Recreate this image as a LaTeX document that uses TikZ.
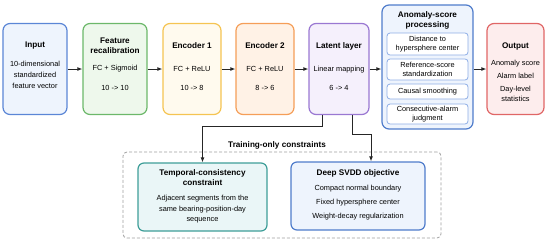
\documentclass[tikz,border=0pt]{standalone}
\usepackage{fontspec}
\setmainfont{Liberation Sans}
\usepackage{xcolor}
\usetikzlibrary{arrows.meta, positioning}

\definecolor{inpB}{HTML}{5B86D6}\definecolor{inpF}{HTML}{EEF4FD}
\definecolor{recB}{HTML}{6CB86A}\definecolor{recF}{HTML}{EEF8EC}
\definecolor{encaB}{HTML}{F5C452}\definecolor{encaF}{HTML}{FFFAEE}
\definecolor{encbB}{HTML}{F59E58}\definecolor{encbF}{HTML}{FFF2E6}
\definecolor{latB}{HTML}{9A78D2}\definecolor{latF}{HTML}{F5F0FC}
\definecolor{anoB}{HTML}{4F7CCB}\definecolor{anoF}{HTML}{EEF4FD}
\definecolor{subB}{HTML}{8EAEE6}
\definecolor{outB}{HTML}{E06666}\definecolor{outF}{HTML}{FDEDED}
\definecolor{temB}{HTML}{3E9E98}\definecolor{temF}{HTML}{EAF6F7}

\begin{document}
\begin{tikzpicture}[
  x=1bp, y=-1bp,
  font=\fontsize{7.4}{11}\selectfont,
  arr/.style   = {-{Latex[length=5bp,width=4bp]}, line width=1bp, black!85},
  stage/.style = {draw, rounded corners=7bp, line width=1.2bp,
                  minimum width=#1, minimum height=91bp, inner sep=0pt},
  subbox/.style = {draw=subB, fill=white, rounded corners=3bp, line width=0.8bp,
                   minimum width=81bp, inner sep=0pt, align=center,
                   font=\fontsize{7.4}{9}\selectfont},
  ttl/.style   = {font=\fontsize{8.2}{10}\selectfont\bfseries, align=center},
  txt/.style   = {align=center},
]
\useasboundingbox (0,0) rectangle (550,243);

%% ── Row 0: encoder pipeline ─────────────────────────────────────────────────
\node[stage=64bp, draw=inpB, fill=inpF] (input) at (35,69) {};
\node[ttl] (inputT) at (35,46) {Input};
\node[txt] (inputX) at (35,75) {10-dimensional\\standardized\\feature vector};

\node[stage=64bp, draw=recB, fill=recF] (recal) at (115,69) {};
\node[ttl] (recalT) at (115,45.5) {Feature\\recalibration};
\node[txt] (recalX) at (115,69) {FC + Sigmoid};
\node[txt] (recalD) at (115,88) {10 -> 10};

\node[stage=58bp, draw=encaB, fill=encaF] (enca) at (192,69) {};
\node[ttl] (encaT) at (192,46) {Encoder 1};
\node[txt] (encaX) at (192,69) {FC + ReLU};
\node[txt] (encaD) at (192,88) {10 -> 8};

\node[stage=58bp, draw=encbB, fill=encbF] (encb) at (265,69) {};
\node[ttl] (encbT) at (265,46) {Encoder 2};
\node[txt] (encbX) at (265,69) {FC + ReLU};
\node[txt] (encbD) at (265,88) {8 -> 6};

\node[stage=60bp, draw=latB, fill=latF] (latent) at (339,69) {};
\node[ttl] (latentT) at (339,46) {Latent layer};
\node[txt] (latentX) at (339,70) {Linear mapping};
\node[txt] (latentD) at (339,88) {6 -> 4};

%% ── Anomaly-score processing ───────────────────────────────────────────────
\node[stage=91bp, minimum height=124bp, draw=anoB, fill=anoF] (anomaly) at (427.5,67) {};
\node[ttl] (anomalyT) at (427.5,20) {Anomaly-score\\processing};
\node[subbox, minimum height=22bp] (distance) at (427.5,44) {Distance to\\hypersphere center};
\node[subbox, minimum height=21bp] (refscore) at (427.5,69.5) {Reference-score\\standardization};
\node[subbox, minimum height=15bp] (smooth) at (427.5,91.5) {Causal smoothing};
\node[subbox, minimum height=20bp] (consec) at (427.5,114) {Consecutive-alarm\\judgment};

\node[stage=57bp, draw=outB, fill=outF] (output) at (515.5,69) {};
\node[ttl] (outputT) at (515.5,46) {Output};
\node[txt, font=\fontsize{7.4}{10}\selectfont] (outputX) at (515.5,81)
  {Anomaly score\\[3bp]Alarm label\\[3bp]Day-level\\statistics};

\draw[arr] (input.east) -- (recal.west);
\draw[arr] (recal.east) -- (enca.west);
\draw[arr] (enca.east) -- (encb.west);
\draw[arr] (encb.east) -- (latent.west);
\draw[arr] (latent.east) -- (latent.east -| anomaly.west);
\draw[arr] (anomaly.east |- output.west) -- (output.west);

%% ── Row 1: training-only constraints ───────────────────────────────────────
\node[draw=gray!75, dash pattern=on 3bp off 2bp, line width=0.8bp, rounded corners=4bp,
      minimum width=318bp, minimum height=86bp] (training) at (282,195) {};
\node[ttl] (trainingT) at (277,145) {Training-only constraints};

\node[draw=temB, fill=temF, rounded corners=6bp, line width=1.2bp,
      minimum width=129bp, minimum height=68bp] (temporal) at (202.5,197) {};
\node[ttl] (temporalT) at (202.5,178) {Temporal-consistency\\constraint};
\node[txt, font=\fontsize{7.4}{10.5}\selectfont] (temporalX) at (202.5,209.5)
  {Adjacent segments from the\\same bearing-position-day\\sequence};

\node[draw=anoB, fill=anoF, rounded corners=6bp, line width=1.2bp,
      minimum width=134bp, minimum height=68bp] (svdd) at (358,196) {};
\node[ttl] (svddT) at (358,173) {Deep SVDD objective};
\node[txt, font=\fontsize{7.4}{14}\selectfont] (svddX) at (358,203)
  {Compact normal boundary\\Fixed hypersphere center\\Weight-decay regularization};

\draw[arr] ([xshift=-17bp]latent.south) -- ++(0,11) -| (temporal.north);
\draw[arr] ([xshift=13bp]latent.south) -- ++(0,19) -| ([xshift=13bp]svdd.north);

\end{tikzpicture}
\end{document}
